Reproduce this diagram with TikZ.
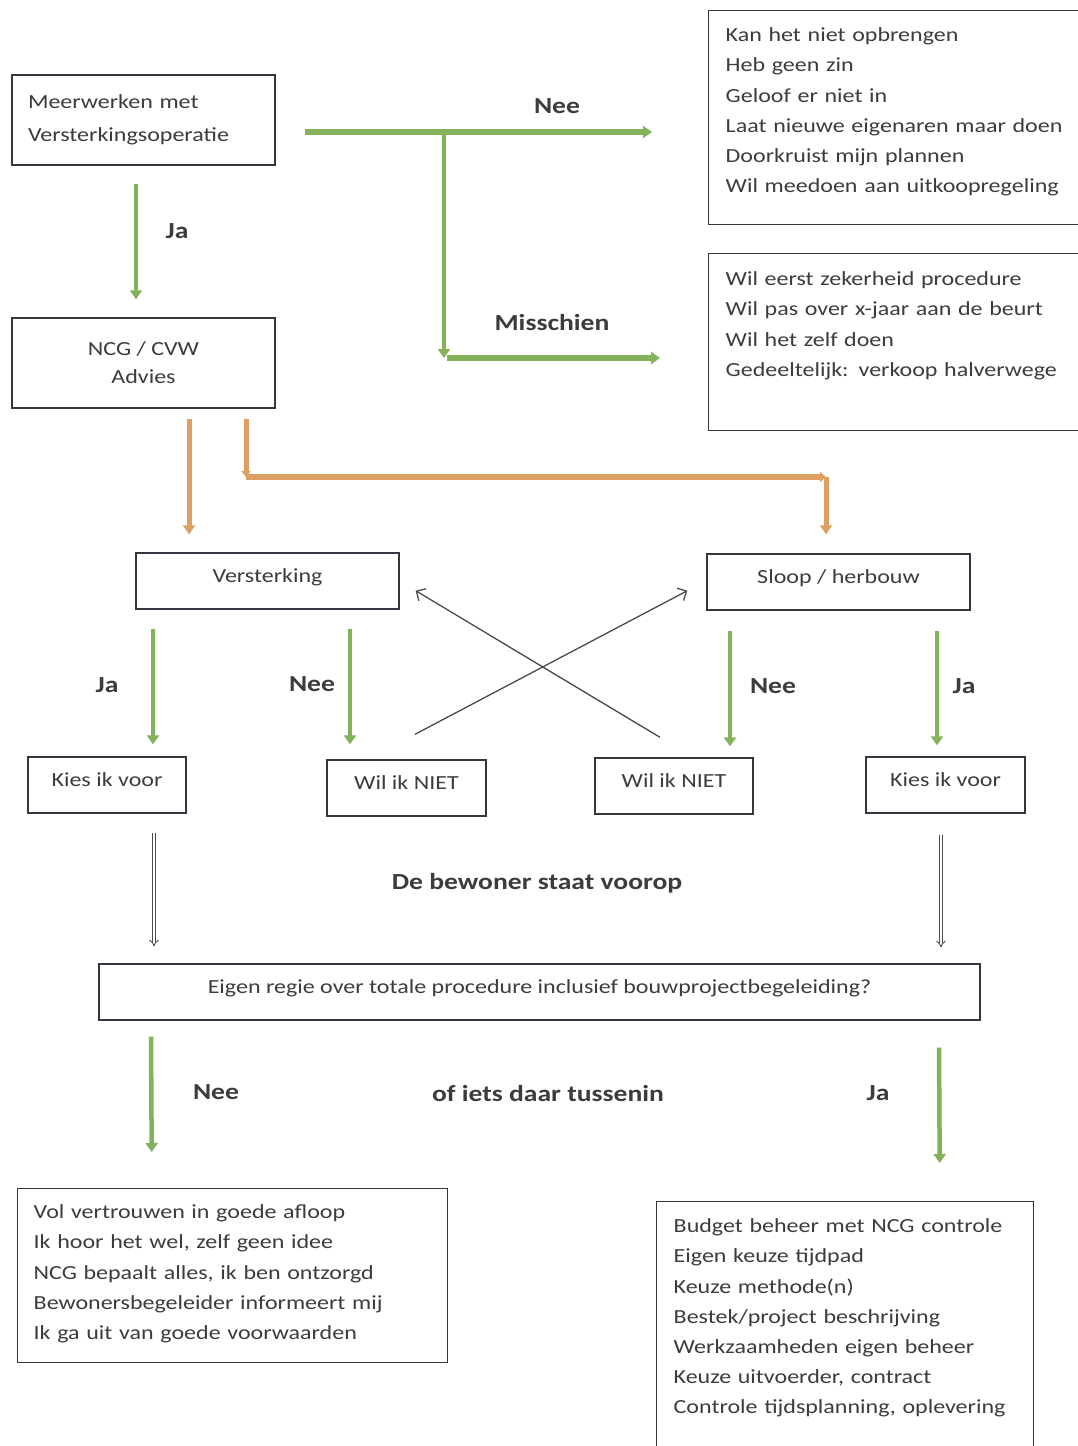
\documentclass[tikz,border=0pt]{standalone}
\usepackage{fontspec}
\setmainfont{Carlito}[FakeStretch=1.2]
\usetikzlibrary{arrows.meta}
\definecolor{groen}{HTML}{83B25A}
\definecolor{oranje}{HTML}{DEA062}
\definecolor{lijn}{HTML}{3A3440}
\definecolor{tekst}{HTML}{3C3C3C}

\begin{document}
\begin{tikzpicture}[
  x=1pt,y=-1pt,
  every node/.style={text=tekst},
  kader/.style={draw=lijn,line width=1.4pt,font=\fontsize{20}{28}\selectfont,minimum height=56pt},
  enkel/.style={kader,text depth=10pt},
  lijst/.style={draw=lijn,line width=1.4pt,anchor=north west,align=left,
    font=\fontsize{20}{30.2}\selectfont,text height=15pt,inner xsep=17pt},
  lbl/.style={font=\fontsize{23}{23}\selectfont\bfseries},
  groenpijl/.style={draw=groen,line width=4.5pt,-{Triangle[length=9pt,width=12pt]}},
  oranjepijl/.style={draw=oranje,line width=5pt,-{Triangle[length=9pt,width=12pt]}},
  kruis/.style={draw=lijn!90,line width=1.3pt,-{Straight Barb[length=7pt,width=14pt]}},
  dubbel/.style={draw=lijn!90,double=white,double distance=2.4pt,line width=0.9pt,-{Implies}}
]
  \path[use as bounding box,fill=white] (0,0) rectangle (1078,1446);
  \clip (0,0) rectangle (1078,1446);

  \node[kader,text width=231pt,align=left,inner xsep=16pt,minimum height=90pt,
    font=\fontsize{20}{33}\selectfont] (meer) at (143.5,120) {Meerwerken met\\Versterkingsoperatie};
  \node[kader,minimum width=263pt,minimum height=90pt,align=center] (advies) at (143.5,363) {NCG / CVW\\Advies};

  \node[lijst,text width=360pt,inner ysep=16pt,text depth=167pt] (neelijst) at (708,10)
    {Kan het niet opbrengen\\Heb geen zin\\Geloof er niet in\\Laat nieuwe eigenaren maar doen\\Doorkruist mijn plannen\\Wil meedoen aan uitkoopregeling};
  \node[lijst,text width=360pt,inner ysep=17pt,text depth=128pt] (twijfellijst) at (708,253)
    {Wil eerst zekerheid procedure\\Wil pas over x-jaar aan de beurt\\Wil het zelf doen\\Gedeeltelijk: verkoop halverwege};

  \node[enkel,minimum width=263pt] (versterking) at (267.5,581) {Versterking};
  \node[enkel,minimum width=263pt] (sloop) at (838.5,582) {Sloop / herbouw};

  \node[enkel,minimum width=158pt] (kies1) at (107,785) {Kies ik voor};
  \node[enkel,minimum width=159pt] (wilniet1) at (406.5,788) {Wil ik NIET};
  \node[enkel,minimum width=158pt] (wilniet2) at (674,786) {Wil ik NIET};
  \node[enkel,minimum width=159pt] (kies2) at (945.5,785) {Kies ik voor};

  \node[enkel,minimum width=881pt] (regie) at (539.5,992) {Eigen regie over totale procedure inclusief bouwprojectbegeleiding?};

  \node[lijst,text width=398pt,inner xsep=16pt,inner ysep=15pt,text depth=129pt] (passief) at (17,1188)
    {Vol vertrouwen in goede afloop\\Ik hoor het wel, zelf geen idee\\NCG bepaalt alles, ik ben ontzorgd\\Bewonersbegeleider informeert mij\\Ik ga uit van goede voorwaarden};
  \node[lijst,text width=343pt,inner ysep=16pt,text depth=207pt] (actief) at (656,1201)
    {Budget beheer met NCG controle\\Eigen keuze tijdpad\\Keuze methode(n)\\Bestek/project beschrijving\\Werkzaamheden eigen beheer\\Keuze uitvoerder, contract\\Controle tijdsplanning, oplevering};

  \node[lbl] (lblnee1) at (557,106) {Nee};
  \node[lbl] (lblja1) at (177,231) {Ja};
  \node[lbl] (lblmisschien) at (552,323) {Misschien};
  \node[lbl] (lblja2) at (107,685) {Ja};
  \node[lbl] (lblnee2) at (312,684) {Nee};
  \node[lbl] (lblnee3) at (773,686) {Nee};
  \node[lbl] (lblja3) at (964,686) {Ja};
  \node[lbl] (lblvoorop) at (537,883) {De bewoner staat voorop};
  \node[lbl] (lblnee4) at (216,1092) {Nee};
  \node[lbl] (lbltussen) at (548,1094) {of iets daar tussenin};
  \node[lbl] (lblja4) at (878,1093) {Ja};

  \coordinate (vork) at (444,132);
  \coordinate (knik) at (444,358);
  \draw[groenpijl] ([shift={(-7.5,18)}]meer.south) -- ([shift={(-7.5,-18)}]advies.north);
  \draw[groenpijl,line width=6pt,shorten <=29pt,shorten >=56pt] (meer.east |- vork) -- (neelijst.west |- vork);
  \draw[groenpijl] (vork) -- (knik);
  \draw[groenpijl,line width=6pt,shorten <=3pt,shorten >=48pt] (knik) -- (twijfellijst.west |- knik);

  \coordinate (ohoek1) at (246,477);
  \coordinate (ohoek2) at (826,477);
  \draw[oranjepijl] ([shift={(45.5,10)}]advies.south) -- ([shift={(-78.5,-18)}]versterking.north);
  \draw[oranjepijl,-{Triangle[length=6pt,width=9pt]}] ([shift={(102.5,10)}]advies.south) -- (ohoek1);
  \draw[oranjepijl,line width=6pt,-{Triangle[length=6pt,width=10pt]}] (ohoek1) -- (ohoek2);
  \draw[oranjepijl] (ohoek2) -- ([shift={(-12.5,-19)}]sloop.north);

  \draw[kruis] ([shift={(8.5,-25)}]wilniet1.north) -- ([shift={(-19,-20)}]sloop.south west);
  \draw[kruis] ([shift={(-14,-20)}]wilniet2.north) -- ([shift={(16,-19)}]versterking.south east);

  \draw[groenpijl] ([shift={(-114.5,19)}]versterking.south) -- ([shift={(46,-12)}]kies1.north);
  \draw[groenpijl] ([shift={(82.5,19)}]versterking.south) -- ([shift={(-56.5,-15)}]wilniet1.north);
  \draw[groenpijl] ([shift={(-108.5,20)}]sloop.south) -- ([shift={(56,-11)}]wilniet2.north);
  \draw[groenpijl] ([shift={(98.5,20)}]sloop.south) -- ([shift={(-8.5,-11)}]kies2.north);

  \draw[dubbel] ([shift={(47,19)}]kies1.south) -- ([shift={(-385.5,-17)}]regie.north);
  \draw[dubbel] ([shift={(-4.5,21)}]kies2.south) -- ([shift={(401.5,-16)}]regie.north);

  \draw[groenpijl] ([shift={(-388.5,16)}]regie.south) -- ([shift={(-81,-36)}]passief.north);
  \draw[groenpijl] ([shift={(399.5,27)}]regie.south) -- ([shift={(94.5,-38)}]actief.north);
\end{tikzpicture}
\end{document}
